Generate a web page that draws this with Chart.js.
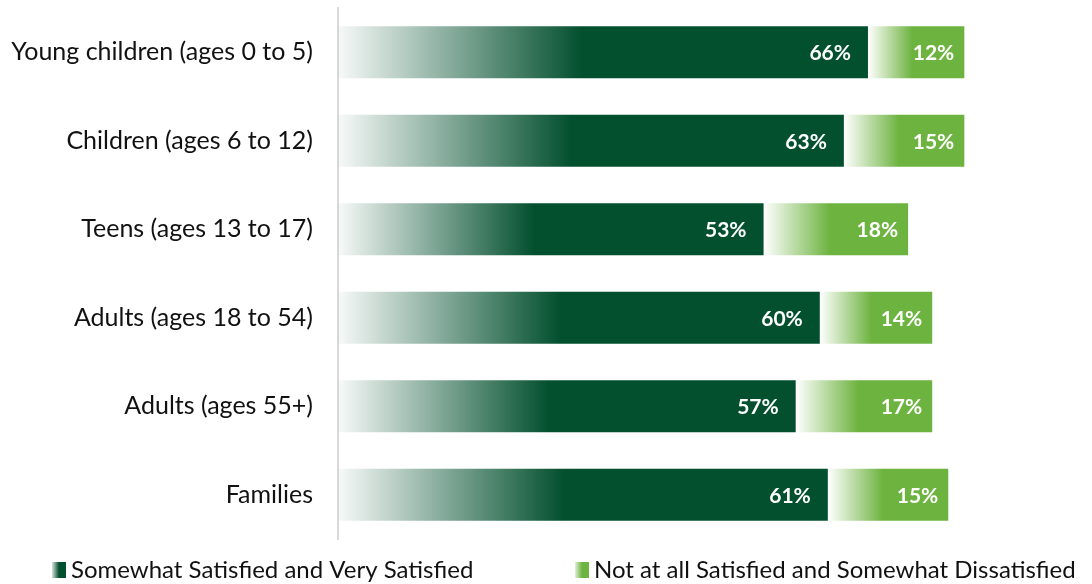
<!DOCTYPE html>
<html>
<head>
<meta charset="utf-8">
<script src="https://cdn.jsdelivr.net/npm/chart.js@4/dist/chart.umd.min.js"></script>
<style>
  html, body { margin: 0; padding: 0; background: #fff; }
  #wrap { width: 1092px; height: 584px; position: relative; }
</style>
</head>
<body>
<div id="wrap"><canvas id="satisfaction"></canvas></div>
<script>
const groups = [
  'Young children (ages 0 to 5)',
  'Children (ages 6 to 12)',
  'Teens (ages 13 to 17)',
  'Adults (ages 18 to 54)',
  'Adults (ages 55+)',
  'Families'
];
const satisfied = [66, 63, 53, 60, 57, 61];
const dissatisfied = [12, 15, 18, 14, 17, 15];
const seriesNames = [
  'Somewhat Satisfied and Very Satisfied',
  'Not at all Satisfied and Somewhat Dissatisfied'
];

const DARK = '#03502f';
const LIGHT = '#6db33f';
const FONT = 'Lato, "Open Sans", sans-serif';

// each segment fades in from the left and turns solid a little before its middle
function fadeFill(solid, faint) {
  return function (ctx) {
    const chart = ctx.chart;
    if (!chart.chartArea || ctx.dataIndex === undefined) return solid;
    const xs = chart.scales.x;
    let start = 0;
    for (let d = 0; d < ctx.datasetIndex; d++) start += chart.data.datasets[d].data[ctx.dataIndex];
    const end = start + ctx.raw;
    const x0 = xs.getPixelForValue(start);
    const x1 = xs.getPixelForValue(end);
    const g = chart.ctx.createLinearGradient(x0, 0, x1, 0);
    g.addColorStop(0, faint);
    g.addColorStop(0.46, solid);
    g.addColorStop(1, solid);
    return g;
  };
}

// white percentage text at the right end of each segment
const valueLabels = {
  id: 'valueLabels',
  afterDatasetsDraw(chart) {
    const c = chart.ctx;
    c.save();
    c.font = 'bold 21px ' + FONT;
    c.fillStyle = '#ffffff';
    c.textAlign = 'right';
    c.textBaseline = 'middle';
    chart.data.datasets.forEach((ds, di) => {
      const pad = di === 0 ? 17 : 10;
      chart.getDatasetMeta(di).data.forEach((bar, i) => {
        c.fillText(ds.data[i] + '%', bar.x - pad, bar.y + 1);
      });
    });
    c.restore();
  }
};

// legend row along the bottom edge
const bottomLegend = {
  id: 'bottomLegend',
  afterDraw(chart) {
    const c = chart.ctx;
    const y = 570;
    const starts = [52, 575];
    const colors = [[ 'rgba(3,80,47,0.15)', DARK ], [ 'rgba(109,179,63,0.2)', LIGHT ]];
    c.save();
    c.font = '24px ' + FONT;
    c.textBaseline = 'middle';
    c.textAlign = 'left';
    seriesNames.forEach((name, i) => {
      const x = starts[i];
      const g = c.createLinearGradient(x, 0, x + 14, 0);
      g.addColorStop(0, colors[i][0]);
      g.addColorStop(0.5, colors[i][1]);
      g.addColorStop(1, colors[i][1]);
      c.fillStyle = g;
      c.fillRect(x, y - 8, 14, 16);
      c.fillStyle = '#111111';
      c.fillText(name, x + 19, y);
    });
    c.restore();
  }
};

new Chart(document.getElementById('satisfaction'), {
  type: 'bar',
  data: {
    labels: groups,
    datasets: [
      {
        label: seriesNames[0],
        data: satisfied,
        backgroundColor: fadeFill(DARK, 'rgba(3,80,47,0.03)'),
        barPercentage: 0.59,
        categoryPercentage: 1
      },
      {
        label: seriesNames[1],
        data: dissatisfied,
        backgroundColor: fadeFill(LIGHT, 'rgba(255,255,255,1)'),
        barPercentage: 0.59,
        categoryPercentage: 1
      }
    ]
  },
  options: {
    indexAxis: 'y',
    responsive: true,
    maintainAspectRatio: false,
    animation: false,
    layout: { padding: { top: 8, bottom: 45, left: 0, right: 0 } },
    plugins: {
      legend: { display: false },
      tooltip: { enabled: false }
    },
    scales: {
      x: {
        stacked: true,
        display: false,
        min: 0,
        max: 93.9
      },
      y: {
        stacked: true,
        grid: { display: false, drawTicks: false },
        border: { color: '#d9d9d9', width: 2 },
        ticks: {
          color: '#111111',
          padding: 25,
          font: { family: FONT, size: 25 }
        },
        afterFit(scale) {
          scale.width = 338;
          scale.paddingTop = 0;
          scale.paddingBottom = 0;
        }
      }
    }
  },
  plugins: [valueLabels, bottomLegend]
});
</script>
</body>
</html>
